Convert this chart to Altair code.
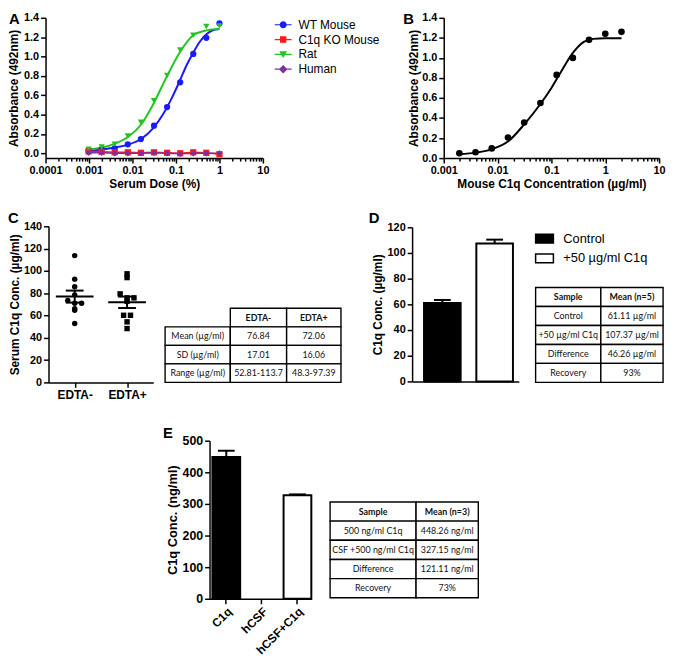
import json
import altair as alt
import pandas as pd

FONT = "Liberation Sans"
TFONT = "Lato"
W, H = 669, 650

# ---------------- data ----------------
# Panel A
a_dose = [0.000977, 0.00195, 0.0039, 0.0078, 0.0156, 0.03125, 0.0625, 0.125, 0.25, 0.5, 1.0]
a_wt = [0.027, 0.04, 0.05, 0.093, 0.147, 0.285, 0.477, 0.733, 1.027, 1.193, 1.343]
a_ko = [0.02, 0.015, 0.01, 0.01, 0.005, 0.01, 0.005, 0.0, 0.01, 0.005, -0.01]
a_rat = [0.043, 0.065, 0.095, 0.18, 0.32, 0.543, 0.803, 1.067, 1.22, 1.31, 1.317]
a_human = [0.005, 0.005, 0.0, 0.0, 0.0, 0.005, 0.0, -0.005, 0.0, 0.0, 0.0]
a_series = ["WT Mouse", "C1q KO Mouse", "Rat", "Human"]
a_wt_fit_x = [0.000977, 0.002, 0.004, 0.008, 0.016, 0.03, 0.05, 0.08, 0.12, 0.18, 0.25, 0.35, 0.5, 0.7, 1.0]
a_wt_fit_y = [0.03, 0.04, 0.06, 0.09, 0.15, 0.26, 0.40, 0.57, 0.74, 0.92, 1.04, 1.15, 1.23, 1.27, 1.285]
a_rat_fit_x = [0.000977, 0.002, 0.004, 0.008, 0.016, 0.031, 0.0625, 0.125, 0.25, 0.5, 1.0]
a_rat_fit_y = [0.04, 0.06, 0.10, 0.17, 0.30, 0.52, 0.80, 1.05, 1.22, 1.27, 1.285]

# Panel B
b_conc = [0.00195, 0.0039, 0.0078, 0.0156, 0.03125, 0.0625, 0.125, 0.25, 0.5, 1.0, 2.0]
b_abs = [0.048, 0.058, 0.097, 0.206, 0.355, 0.55, 0.83, 1.0, 1.18, 1.24, 1.26]
b_fit_x = [0.00195, 0.004, 0.008, 0.016, 0.031, 0.0625, 0.1, 0.15, 0.25, 0.4, 0.6, 1.0, 2.0]
b_fit_y = [0.04, 0.055, 0.09, 0.17, 0.335, 0.54, 0.70, 0.86, 1.05, 1.16, 1.19, 1.195, 1.195]

# Panel C
c_groups = ["EDTA-", "EDTA+"]
c_edta_minus = [113.7, 92.6, 85.8, 78.5, 73.5, 71.0, 71.0, 66.0, 64.6, 52.81]
c_edta_plus = [97.39, 94.0, 79.4, 75.8, 75.8, 72.8, 60.2, 60.2, 54.3, 48.3]
c_tab = [
    ["", "Mean (µg/ml)", "SD (µg/ml)", "Range (µg/ml)"],
    ["EDTA-", "76.84", "17.01", "52.81-113.7"],
    ["EDTA+", "72.06", "16.06", "48.3-97.39"],
]

# Panel D
d_cats = ["Control", "+50 µg/ml C1q"]
d_mean = [61.11, 107.37]
d_sem = [2.3, 3.0]
d_tab = [
    ["Sample", "Control", "+50 µg/ml C1q", "Difference", "Recovery"],
    ["Mean (n=5)", "61.11 µg/ml", "107.37 µg/ml", "46.26 µg/ml", "93%"],
]

# Panel E
e_cats = ["C1q", "hCSF", "hCSF+C1q"]
e_mean = [448.26, 0.0, 327.15]
e_sem = [20.0, 0.0, 3.0]
e_tab = [
    ["Sample", "500 ng/ml C1q", "CSF +500 ng/ml C1q", "Difference", "Recovery"],
    ["Mean (n=3)", "448.26 ng/ml", "327.15 ng/ml", "121.11 ng/ml", "73%"],
]

# ---------------- styles / layout ----------------
a_colors = ["#1a1aff", "#ff1a1a", "#22c422", "#7b2fa0"]
a_shapes = ["circle", "square", "triangle-down", "diamond"]
LINE = "M-1,-0.07H1V0.07H-1Z"
a_legend_paths = [
    LINE + "M0.42,0A0.42,0.42,0,1,1,-0.42,0A0.42,0.42,0,1,1,0.42,0Z",
    LINE + "M-0.38,-0.38H0.38V0.38H-0.38Z",
    LINE + "M-0.46,-0.38H0.46L0,0.44Z",
    LINE + "M0,-0.5L0.5,0L0,0.5L-0.5,0Z",
]

A_X = [38, 258]; A_Y = [148, 6]
B_X = [441, 659]; B_Y = [148, 6]
C_X = [41, 147]; C_Y = [375, 217]
D_X = [409, 517]; D_Y = [374, 218]
E_X = [204, 307]; E_Y = [594, 434]
SLOT = 0.132
MEAN_HALF = 0.36
CAP_HALF = 0.17


def ax(orient, pos, **kw):
    cfg = dict(orient=orient, offset=(-pos if orient == "left" else pos - H), grid=False,
               domainColor="black", domainWidth=1.5, tickColor="black", tickWidth=1.5, tickSize=5,
               labelFont=FONT, labelFontWeight="bold", labelFontSize=11, labelColor="black",
               labelPadding=2, labelOverlap=False, labelFlush=False,
               titleFont=FONT, titleFontWeight="bold", titleFontSize=12, titleColor="black",
               titlePadding=3)
    cfg.update(kw)
    return alt.Axis(**cfg)


layers = []

# ---------------- Panel A ----------------
dfA = pd.DataFrame({
    "dose": a_dose * 4,
    "abs": a_wt + a_ko + a_rat + a_human,
    "series": sum([[s] * len(a_dose) for s in a_series], []),
})
dfA_fit = pd.DataFrame({
    "x": a_wt_fit_x + a_rat_fit_x,
    "y": a_wt_fit_y + a_rat_fit_y,
    "series": ["WT Mouse"] * len(a_wt_fit_x) + ["Rat"] * len(a_rat_fit_x),
})
sAx = alt.Scale(type="log", domain=[1e-4, 10], range=A_X, nice=False)
sAy = alt.Scale(domain=[-0.05, 1.4], range=A_Y, nice=False, zero=False)
sAc = alt.Scale(domain=a_series, range=a_colors)
minorA = [k * 10.0 ** e for e in range(-4, 1) for k in range(2, 10)]

layers.append(alt.Chart(dfA_fit).mark_line(interpolate="monotone", strokeWidth=2).encode(
    x=alt.X("x:Q", scale=sAx, axis=ax("bottom", A_Y[0], values=[0.0001, 0.001, 0.01, 0.1, 1, 10],
                                      format="~g", title="Serum Dose (%)")),
    y=alt.Y("y:Q", scale=sAy, axis=ax("left", A_X[0], values=[0, 0.2, 0.4, 0.6, 0.8, 1.0, 1.2, 1.4],
                                      format=".1f", title="Absorbance (492nm)")),
    color=alt.Color("series:N", scale=sAc, legend=None)))
layers.append(alt.Chart(dfA).mark_point(opacity=0).encode(
    x=alt.X("dose:Q", scale=sAx, axis=ax("bottom", A_Y[0], values=minorA, labels=False, domain=False,
                                         tickSize=3, title=None))))
layers.append(alt.Chart(dfA).transform_filter(
    alt.FieldOneOfPredicate(field="series", oneOf=["C1q KO Mouse", "Human"])
).mark_line(strokeWidth=1.5).encode(
    x=alt.X("dose:Q", scale=sAx, axis=None),
    y=alt.Y("abs:Q", scale=sAy, axis=None),
    color=alt.Color("series:N", scale=sAc, legend=None)))
layers.append(alt.Chart(dfA).mark_point(filled=True, opacity=1, size=40).encode(
    x=alt.X("dose:Q", scale=sAx, axis=None),
    y=alt.Y("abs:Q", scale=sAy, axis=None),
    color=alt.Color("series:N", scale=sAc, legend=None),
    shape=alt.Shape("series:N", scale=alt.Scale(domain=a_series, range=a_shapes), legend=None)))
legA = alt.Legend(orient="none", legendX=270, legendY=4.5, title=None, symbolSize=289,
                  symbolOpacity=1, symbolStrokeWidth=0, labelFont=FONT, labelFontSize=12,
                  labelColor="black", labelOffset=7, rowPadding=0, padding=0)
layers.append(alt.Chart(pd.DataFrame({"series": a_series})).mark_point(filled=True, opacity=0).encode(
    color=alt.Color("series:N", scale=sAc, legend=legA),
    shape=alt.Shape("series:N", scale=alt.Scale(domain=a_series, range=a_legend_paths), legend=legA)))

# ---------------- Panel B ----------------
dfB = pd.DataFrame({"conc": b_conc, "abs": b_abs})
dfB_fit = pd.DataFrame({"x": b_fit_x, "y": b_fit_y})
sBx = alt.Scale(type="log", domain=[1e-3, 10], range=B_X, nice=False)
sBy = alt.Scale(domain=[0, 1.4], range=B_Y, nice=False, zero=False)
minorB = [k * 10.0 ** e for e in range(-3, 1) for k in range(2, 10)]
layers.append(alt.Chart(dfB_fit).mark_line(interpolate="monotone", strokeWidth=2, color="black").encode(
    x=alt.X("x:Q", scale=sBx, axis=ax("bottom", B_Y[0], values=[0.001, 0.01, 0.1, 1, 10], format="~g",
                                      title="Mouse C1q Concentration (µg/ml)")),
    y=alt.Y("y:Q", scale=sBy, axis=ax("left", B_X[0], values=[0, 0.2, 0.4, 0.6, 0.8, 1.0, 1.2, 1.4],
                                      format=".1f", title="Absorbance (492nm)", titlePadding=1))))
layers.append(alt.Chart(dfB).mark_point(opacity=0).encode(
    x=alt.X("conc:Q", scale=sBx, axis=ax("bottom", B_Y[0], values=minorB, labels=False, domain=False,
                                         tickSize=3, title=None))))
layers.append(alt.Chart(dfB).mark_point(filled=True, opacity=1, size=45, color="black").encode(
    x=alt.X("conc:Q", scale=sBx, axis=None),
    y=alt.Y("abs:Q", scale=sBy, axis=None)))

# ---------------- Panel C ----------------
dfC = pd.DataFrame({
    "group": [c_groups[0]] * len(c_edta_minus) + [c_groups[1]] * len(c_edta_plus),
    "value": c_edta_minus + c_edta_plus,
})
gjs = json.dumps(c_groups)
sCx = alt.Scale(domain=[-0.5, 1.5], range=C_X, nice=False, zero=False)
sCy = alt.Scale(domain=[0, 140], range=C_Y, nice=False)
label_expr_c = f"{gjs}[datum.value]"
layers.append(alt.Chart(dfC).transform_calculate(
    b="floor(datum.value / 5)"
).transform_window(
    r="row_number()", n="count()", groupby=["group", "b"],
    sort=[alt.SortField("value", order="descending")], frame=[None, None]
).transform_calculate(
    pos=f"indexof({gjs}, datum.group) + (datum.r - 1 - (datum.n - 1) / 2) * {SLOT}"
).mark_point(filled=True, opacity=1, size=30, color="black").encode(
    x=alt.X("pos:Q", scale=sCx, axis=ax("bottom", C_Y[0], values=[0, 1], labelExpr=label_expr_c,
                                        labelFontSize=12, title=None)),
    y=alt.Y("value:Q", scale=sCy, axis=ax("left", C_X[0], values=list(range(0, 141, 20)), format="d",
                                          title="Serum C1q Conc. (µg/ml)", titlePadding=2)),
    shape=alt.Shape("group:N", scale=alt.Scale(domain=c_groups, range=["circle", "square"]), legend=None)))
c_stats = alt.Chart(dfC).transform_aggregate(
    m="mean(value)", se="stderr(value)", groupby=["group"]
).transform_calculate(
    i=f"indexof({gjs}, datum.group)"
).transform_calculate(
    lo="datum.m - datum.se", hi="datum.m + datum.se",
    ml=f"datum.i - {MEAN_HALF}", mr=f"datum.i + {MEAN_HALF}",
    cl=f"datum.i - {CAP_HALF}", cr=f"datum.i + {CAP_HALF}")
layers.append(c_stats.mark_rule(strokeWidth=2, color="black").encode(
    x=alt.X("ml:Q", scale=sCx, axis=None), x2="mr:Q", y=alt.Y("m:Q", scale=sCy, axis=None)))
layers.append(c_stats.mark_rule(strokeWidth=2, color="black").encode(
    x=alt.X("i:Q", scale=sCx, axis=None), y=alt.Y("lo:Q", scale=sCy, axis=None), y2="hi:Q"))
layers.append(c_stats.transform_fold(["lo", "hi"], as_=["k", "v"]).mark_rule(strokeWidth=2, color="black").encode(
    x=alt.X("cl:Q", scale=sCx, axis=None), x2="cr:Q", y=alt.Y("v:Q", scale=sCy, axis=None)))

# ---------------- Panel D ----------------
dfD = pd.DataFrame({"cat": d_cats, "mean": d_mean, "sem": d_sem})
sDx = alt.Scale(domain=d_cats, range=D_X, paddingInner=0.3, paddingOuter=0.17, align=0.67)
sDy = alt.Scale(domain=[0, 120], range=D_Y, nice=False)
legD = alt.Legend(orient="none", legendX=533, legendY=219.5, title=None,
                  symbolType="M-1,-0.5H1V0.5H-1Z", symbolSize=324, symbolStrokeColor="black",
                  symbolStrokeWidth=1.5, symbolOpacity=1, labelFont=FONT, labelFontSize=13,
                  labelColor="black", labelOffset=9, rowPadding=2, padding=0)
layers.append(alt.Chart(dfD).mark_bar(stroke="black", strokeWidth=2).encode(
    x=alt.X("cat:N", scale=sDx, axis=ax("bottom", D_Y[0], labels=False, ticks=False, title=None)),
    y=alt.Y("mean:Q", scale=sDy, axis=ax("left", D_X[0], values=list(range(0, 121, 20)), format="d",
                                         title="C1q Conc. (µg/ml)")),
    fill=alt.Fill("cat:N", scale=alt.Scale(domain=d_cats, range=["black", "white"]), legend=legD)))
d_err = alt.Chart(dfD).transform_calculate(hi="datum.mean + datum.sem")
layers.append(d_err.mark_rule(strokeWidth=2, color="black").encode(
    x=alt.X("cat:N", scale=sDx, axis=None), y=alt.Y("mean:Q", scale=sDy, axis=None), y2="hi:Q"))
layers.append(d_err.mark_tick(size=17, thickness=2, color="black", opacity=1).encode(
    x=alt.X("cat:N", scale=sDx, axis=None), y=alt.Y("hi:Q", scale=sDy, axis=None)))

# ---------------- Panel E ----------------
dfE = pd.DataFrame({"cat": e_cats, "mean": e_mean, "sem": e_sem})
sEx = alt.Scale(domain=e_cats, range=E_X, paddingInner=0.22, paddingOuter=0.04, align=1.0)
sEy = alt.Scale(domain=[0, 500], range=E_Y, nice=False)
layers.append(alt.Chart(dfE).transform_filter("datum.mean > 0").mark_bar(stroke="black", strokeWidth=2).encode(
    x=alt.X("cat:N", scale=sEx, axis=ax("bottom", E_Y[0], labelAngle=-45, labelAlign="right",
                                        labelBaseline="top", labelFontSize=12, title=None)),
    y=alt.Y("mean:Q", scale=sEy, axis=ax("left", E_X[0], values=list(range(0, 501, 100)), format="d",
                                         labelFontSize=12.5, titleFontSize=13,
                                         title="C1q Conc. (ng/ml)")),
    fill=alt.Fill("cat:N", scale=alt.Scale(domain=e_cats, range=["black", "white", "white"]), legend=None)))
e_err = alt.Chart(dfE).transform_filter("datum.sem > 0").transform_calculate(hi="datum.mean + datum.sem")
layers.append(e_err.mark_rule(strokeWidth=2, color="black").encode(
    x=alt.X("cat:N", scale=sEx, axis=None), y=alt.Y("mean:Q", scale=sEy, axis=None), y2="hi:Q"))
layers.append(e_err.mark_tick(size=17, thickness=2, color="black", opacity=1).encode(
    x=alt.X("cat:N", scale=sEx, axis=None), y=alt.Y("hi:Q", scale=sEy, axis=None)))


# ---------------- tables ----------------
def table_layers(cols, col_edges, top, bottom):
    n = len(cols[0])
    rows = list(range(n))
    sy = alt.Scale(domain=rows, range=[top, bottom], paddingInner=0, paddingOuter=0)
    out = []
    for j, col in enumerate(cols):
        cname = f"c{j}"
        df = pd.DataFrame({"row": rows, "txt": col, "c": [cname] * n})
        sx = alt.Scale(domain=[cname], range=[col_edges[j], col_edges[j + 1]], paddingInner=0, paddingOuter=0)
        base = alt.Chart(df).encode(x=alt.X("c:N", scale=sx, axis=None), y=alt.Y("row:O", scale=sy, axis=None))
        out.append(base.transform_filter("datum.txt != ''").mark_rect(fill="white", stroke="black", strokeWidth=1.4))
        out.append(base.transform_filter("datum.row == 0").mark_text(
            font=TFONT, fontSize=9, fontWeight="bold", color="#111", baseline="middle").encode(text="txt:N"))
        out.append(base.transform_filter("datum.row > 0").mark_text(
            font=TFONT, fontSize=9, color="#111", baseline="middle").encode(text="txt:N"))
    return out


layers += table_layers(c_tab, [159, 225, 282, 337], 300, 375)
layers += table_layers(d_tab, [534, 600, 663], 279, 375)
layers += table_layers(e_tab, [326, 413, 476], 496, 593)

# ---------------- panel letters ----------------
for letter, lx, ly in [("A", 1, 0), ("B", 400, 0), ("C", 0, 202), ("D", 365, 202), ("E", 157, 419)]:
    layers.append(alt.Chart(pd.DataFrame({"t": [letter]})).mark_text(
        font=FONT, fontSize=15, fontWeight="bold", align="left", baseline="top", color="black").encode(
        x=alt.value(lx), y=alt.value(ly), text="t:N"))

chart = alt.layer(*layers).resolve_scale(
    x="independent", y="independent", color="independent", fill="independent", shape="independent"
).properties(
    width=W, height=H, autosize=alt.AutoSizeParams(type="none"), padding=0
).configure_view(stroke=None)

chart.save("out.html", embed_options={"renderer": "svg", "actions": False})
